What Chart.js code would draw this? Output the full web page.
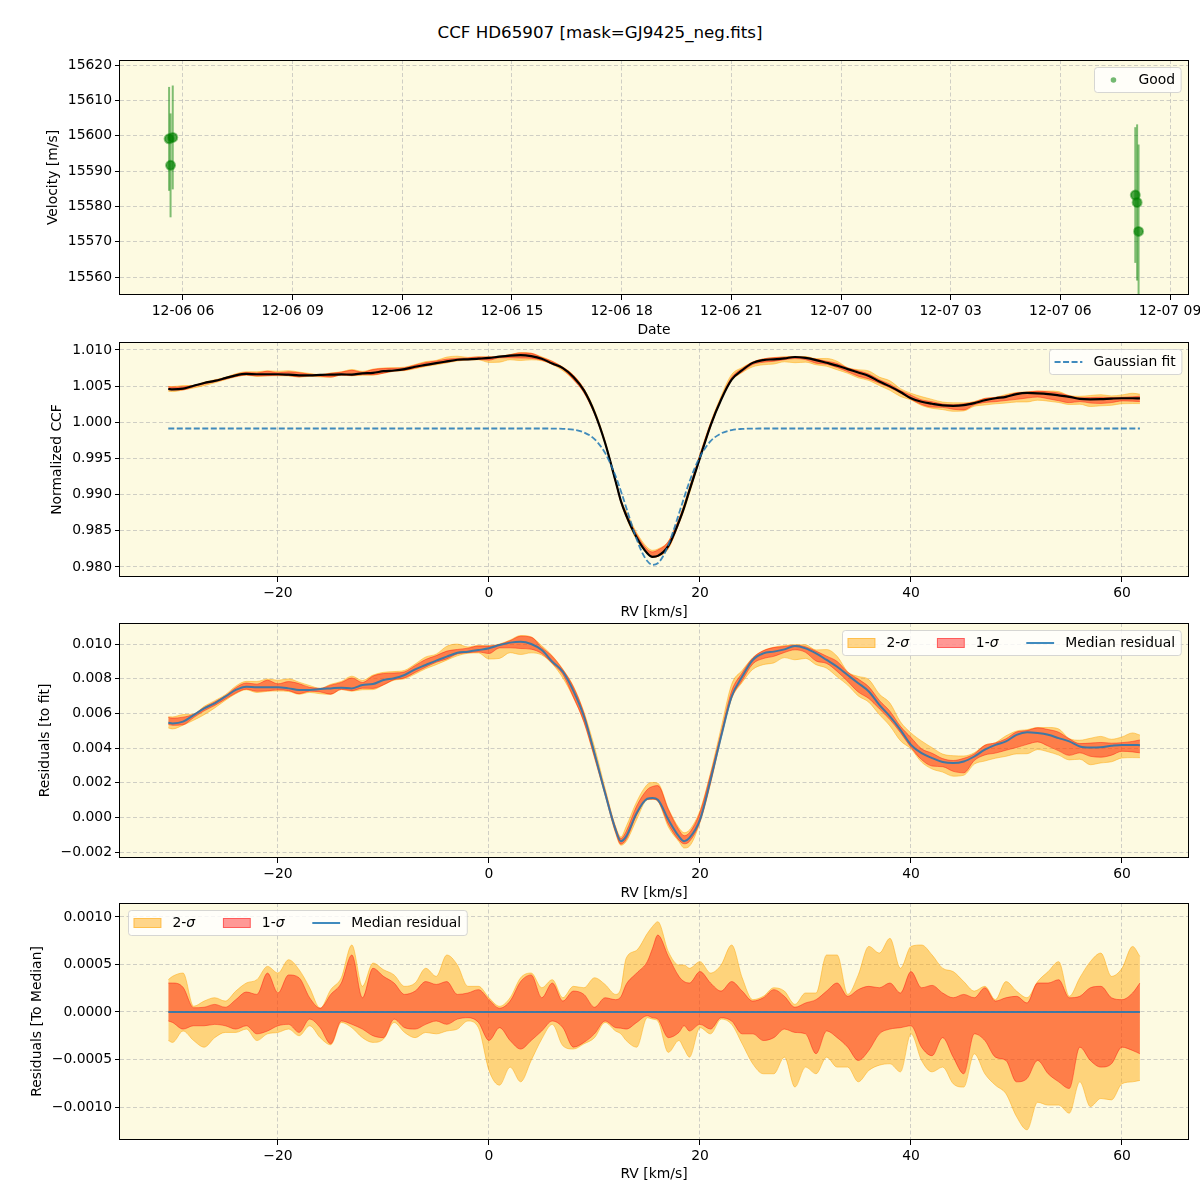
<!DOCTYPE html>
<html>
<head>
<meta charset="utf-8">
<title>CCF HD65907</title>
<script src="https://cdn.jsdelivr.net/npm/chart.js@4.4.0/dist/chart.umd.min.js"></script>
<style>
  html, body { margin: 0; padding: 0; background: #fff; }
  #page { position: relative; width: 1200px; height: 1200px; font-family: "DejaVu Sans", sans-serif; }
  #title { position: absolute; left: 0; top: 22px; width: 1200px; line-height: 20px;
           text-align: center; font-size: 16.7px; color: #000; }
  .panel { position: absolute; left: 0; width: 1200px; }
  .panel canvas { display: block; }
</style>
</head>
<body>
<div id="page">
  <div id="title">CCF HD65907 [mask=GJ9425_neg.fits]</div>
  <div class="panel" style="top:50px"><canvas id="c-rv" width="1200" height="290"></canvas></div>
  <div class="panel" style="top:332px"><canvas id="c-ccf" width="1200" height="290"></canvas></div>
  <div class="panel" style="top:613px"><canvas id="c-res" width="1200" height="290"></canvas></div>
  <div class="panel" style="top:893px"><canvas id="c-med" width="1200" height="292"></canvas></div>
</div>

<script>
// ── Data: RV time series (hours since 12-06 00:00) ────────────────────────────

const obsHours = [5.62, 5.66, 5.72, 32.05, 32.10, 32.14];
const obsVel   = [15599.1, 15591.6, 15599.5, 15583.2, 15581.1, 15572.9];
const obsErr   = [14.7, 14.7, 14.7, 19.2, 22.1, 24.6];

const dateTicks  = [6, 9, 12, 15, 18, 21, 24, 27, 30, 33];
const dateLabels = ["12-06 06", "12-06 09", "12-06 12", "12-06 15", "12-06 18",
                    "12-06 21", "12-07 00", "12-07 03", "12-07 06", "12-07 09"];
const velTicks   = [15560, 15570, 15580, 15590, 15600, 15610, 15620];

// ── Data: CCF profiles on a common RV grid (km/s) ─────────────────────────────

const rv = [
  -30.4, -30, -29, -28, -27, -26, -25, -24, -23, -22,
  -21, -20, -19, -18, -17, -16, -15, -14, -13, -12,
  -11, -10, -9, -8, -7, -6, -5, -4, -3, -2,
  -1, 0, 1, 2, 3, 4, 5, 6, 7, 8,
  9, 10, 11, 12, 12.5, 13, 14, 15, 15.5, 16,
  17, 18, 18.5, 19, 20, 21, 22, 23, 24, 25,
  26, 27, 28, 29, 30, 31, 32, 33, 34, 35,
  36, 37, 38, 39, 40, 41, 42, 43, 44, 45,
  46, 47, 48, 49, 50, 51, 52, 53, 54, 55,
  56, 57, 58, 59, 60, 61, 61.7];

// median normalized CCF
const ccfMedian = [
  1.00461, 1.00457, 1.00467, 1.00505, 1.00544, 1.00573, 1.00611, 1.00650, 1.00669, 1.00665,
  1.00665, 1.00665, 1.00659, 1.00650, 1.00650, 1.00655, 1.00659, 1.00663, 1.00659, 1.00678,
  1.00684, 1.00707, 1.00717, 1.00736, 1.00769, 1.00794, 1.00819, 1.00842, 1.00865, 1.00871,
  1.00880, 1.00890, 1.00909, 1.00923, 1.00928, 1.00915, 1.00880, 1.00812, 1.00750, 1.00628,
  1.00442, 1.00138, 0.99717, 0.99186, 0.98913, 0.98716, 0.98408, 0.98190, 0.98141, 0.98154,
  0.98293, 0.98624, 0.98825, 0.99059, 0.99511, 0.99956, 1.00313, 1.00590, 1.00721, 1.00822,
  1.00861, 1.00871, 1.00884, 1.00903, 1.00890, 1.00861, 1.00823, 1.00784, 1.00736, 1.00689,
  1.00641, 1.00564, 1.00497, 1.00420, 1.00333, 1.00285, 1.00257, 1.00234, 1.00228, 1.00237,
  1.00266, 1.00305, 1.00333, 1.00353, 1.00391, 1.00406, 1.00401, 1.00391, 1.00372, 1.00353,
  1.00324, 1.00318, 1.00320, 1.00328, 1.00333, 1.00333, 1.00331];

// median residual to the Gaussian fit, in units of 1e-3
const residFitMilli = [
  5.46, 5.42, 5.52, 5.90, 6.29, 6.58, 6.96, 7.35, 7.54, 7.50,
  7.50, 7.50, 7.44, 7.35, 7.35, 7.40, 7.44, 7.48, 7.44, 7.63,
  7.69, 7.92, 8.02, 8.21, 8.54, 8.79, 9.04, 9.27, 9.50, 9.56,
  9.65, 9.75, 9.94, 10.08, 10.13, 10.00, 9.65, 8.98, 8.40, 7.30,
  5.82, 3.70, 1.40, -0.71, -1.38, -1.10, 0.25, 1.07, 1.11, 1.02,
  -0.13, -1.10, -1.38, -1.19, -0.13, 2.17, 4.66, 6.97, 8.12, 9.08,
  9.46, 9.56, 9.69, 9.88, 9.75, 9.46, 9.08, 8.69, 8.21, 7.74,
  7.26, 6.49, 5.82, 5.05, 4.18, 3.70, 3.42, 3.19, 3.13, 3.22,
  3.51, 3.90, 4.18, 4.38, 4.76, 4.91, 4.86, 4.76, 4.57, 4.38,
  4.09, 4.03, 4.05, 4.13, 4.18, 4.18, 4.16];

// band edges relative to the median, in units of 1e-4
const hi2Off = [
  3.4, 3.75, 4.1, 0.6, 1.15, 1.5, 1.15, 2.2, 3.05, 3.4,
  4.8, 4.1, 5.5, 4.45, 2.55, 0.4, 2.35, 3.6, 7.05, 2.7,
  5.15, 4.45, 3.9, 2.7, 3.05, 4.6, 3.75, 6.0, 4.95, 2.7,
  2.7, 1.5, 0.6, 1.5, 3.6, 4.1, 2.55, 3.4, 1.5, 2.7,
  2.55, 3.6, 2.9, 1.85, 2.5, 5.65, 6.5, 8.25, 9.0, 9.5,
  6.35, 4.95, 4.95, 4.6, 5.3, 4.1, 4.95, 7.05, 3.6, 1.3,
  1.65, 2.55, 2.2, 0.8, 2.0, 2.0, 6.0, 6.0, 1.85, 3.9,
  6.9, 6.2, 7.75, 4.6, 6.9, 7.05, 6.0, 4.6, 4.25, 3.2,
  2.2, 2.7, 1.3, 3.2, 2.2, 1.5, 3.2, 4.25, 5.3, 1.65,
  3.6, 5.3, 6.2, 3.75, 4.6, 6.9, 5.85];
const hi1Off = [
  3.05, 3.05, 2.6, 0.45, 0.5, 0.8, 0.5, 1.3, 2.1, 1.85,
  4.1, 2.0, 3.9, 3.6, 1.5, 0.4, 1.85, 3.05, 6.0, 1.5,
  4.6, 3.75, 3.05, 1.85, 2.2, 3.2, 2.9, 3.2, 1.85, 2.0,
  2.35, 1.3, 0.4, 1.15, 3.2, 3.9, 1.5, 3.05, 1.15, 2.2,
  1.85, 0.5, 1.5, 1.3, 1.6, 2.9, 4.1, 5.3, 6.7, 8.1,
  5.85, 3.75, 3.2, 3.05, 4.25, 3.05, 2.2, 3.2, 2.2, 1.15,
  1.5, 2.35, 1.65, 0.5, 0.95, 1.3, 2.2, 3.05, 1.65, 2.35,
  2.7, 2.55, 3.05, 2.0, 4.25, 2.55, 2.8, 2.0, 1.5, 1.85,
  1.5, 2.55, 1.15, 1.5, 1.65, 0.95, 3.05, 3.05, 3.4, 1.5,
  1.65, 2.55, 2.7, 1.5, 1.3, 2.0, 3.05];
const lo1Off = [
  -0.94, -1.1, -1.8, -1.45, -1.45, -1.3, -1.45, -1.8, -1.45, -2.3,
  -2.0, -1.45, -1.3, -2.15, -0.75, -1.65, -3.35, -0.95, -1.3, -1.8,
  -2.5, -2.7, -0.75, -1.65, -1.8, -1.3, -0.95, -1.3, -0.75, -0.6,
  -1.1, -3.0, -1.65, -3.0, -3.9, -3.0, -2.0, -0.95, -1.65, -3.7,
  -3.2, -2.3, -0.95, -1.65, -1.7, -1.8, -1.1, -0.4, -0.6, -0.75,
  -2.7, -2.15, -1.45, -2.0, -1.3, -1.8, -0.6, -0.95, -2.3, -2.3,
  -3.0, -2.7, -1.8, -2.15, -2.3, -4.4, -2.0, -2.7, -3.7, -5.1,
  -4.05, -2.3, -1.8, -1.65, -1.45, -3.7, -4.6, -2.7, -4.75, -6.5,
  -2.3, -3.0, -4.75, -5.1, -7.35, -7.0, -5.1, -6.5, -7.35, -8.05,
  -3.7, -5.1, -5.8, -5.45, -3.7, -4.05, -4.4];
const lo2Off = [
  -3.0, -3.2, -2.0, -3.0, -3.7, -2.7, -2.15, -2.15, -1.8, -3.0,
  -2.3, -2.15, -1.8, -2.5, -1.45, -2.7, -3.45, -1.1, -1.65, -2.7,
  -3.2, -2.85, -1.1, -2.15, -2.7, -2.15, -2.3, -2.0, -1.8, -0.95,
  -1.65, -6.15, -7.7, -5.8, -7.35, -5.1, -2.85, -1.3, -3.55, -3.9,
  -3.35, -2.7, -1.1, -2.0, -2.3, -3.0, -3.7, -0.6, -0.75, -0.95,
  -4.25, -3.0, -3.9, -4.75, -1.65, -2.3, -0.75, -1.3, -3.35, -5.45,
  -6.5, -6.5, -4.75, -7.9, -5.8, -6.5, -4.75, -5.8, -5.8, -7.35,
  -6.15, -5.6, -5.45, -6.3, -2.3, -5.1, -6.3, -5.8, -7.55, -7.9,
  -4.4, -6.5, -7.7, -8.6, -11.0, -12.4, -9.5, -9.8, -9.8, -10.65,
  -7.35, -9.95, -9.1, -9.25, -7.55, -7.35, -7.2];

// Gaussian fit, sampled on its own grid
const fitRv  = [-30.4, 4, 6, 7, 8, 9, 10, 11, 12, 12.5, 13, 13.5, 14, 14.5, 15, 15.5,
                16, 16.5, 17, 17.5, 18, 18.5, 19, 19.5, 20, 21, 22, 23, 24, 25, 27, 61.7];
const fitCcf = [0.99915, 0.99915, 0.99914, 0.99910, 0.99898, 0.99860, 0.99768, 0.99577,
                0.99257, 0.99051, 0.98826, 0.98597, 0.98383, 0.98205, 0.98083, 0.98030,
                0.98052, 0.98148, 0.98306, 0.98508, 0.98734, 0.98963, 0.99178, 0.99367,
                0.99524, 0.99739, 0.99847, 0.99893, 0.99909, 0.99914, 0.99915, 0.99915];

const rvTicks   = [-20, 0, 20, 40, 60];
const ccfTicks  = [0.980, 0.985, 0.990, 0.995, 1.000, 1.005, 1.010];
const resTicks  = [-0.002, 0.000, 0.002, 0.004, 0.006, 0.008, 0.010];
const medTicks  = [-0.0010, -0.0005, 0.0000, 0.0005, 0.0010];

const MILLI = 1e-3;
const OFF_UNIT = 1e-4;

// ── Style ──────────────────────────────────────────────────────────────────────

const FONT = 13.9;
const PLOT_BG = "#fdfae1";
const GRID = "rgba(176,176,176,0.6)";
const SIG2 = "rgba(255,165,0,0.45)";
const SIG1 = "rgba(255,0,0,0.4)";
const BLUE = "rgba(31,119,180,0.85)";
const GREEN_BAR = "rgba(0,128,0,0.5)";

Chart.defaults.font.family = "'DejaVu Sans', sans-serif";
Chart.defaults.font.size = FONT;
Chart.defaults.color = "#000";

const fmt = (v, d) => v.toFixed(d).replace("-", "\u2212");

// ── Plugins ────────────────────────────────────────────────────────────────────

const frame = {
  id: "frame",
  beforeDraw(chart) {
    const { ctx, chartArea: a } = chart;
    ctx.save();
    ctx.fillStyle = PLOT_BG;
    ctx.fillRect(a.left, a.top, a.right - a.left, a.bottom - a.top);
    ctx.restore();
  },
  afterDraw(chart) {
    const { ctx, chartArea: a } = chart;
    ctx.save();
    ctx.strokeStyle = "#000";
    ctx.lineWidth = 1;
    ctx.strokeRect(Math.round(a.left) - 0.5, Math.round(a.top) + 0.5,
                   Math.round(a.right - a.left) + 1, Math.round(a.bottom - a.top) - 1);
    ctx.restore();
  },
};

const errorBars = {
  id: "errorBars",
  beforeDatasetsDraw(chart) {
    const { ctx, chartArea: a, scales: { x, y } } = chart;
    ctx.save();
    ctx.beginPath();
    ctx.rect(a.left, a.top, a.right - a.left, a.bottom - a.top);
    ctx.clip();
    ctx.strokeStyle = GREEN_BAR;
    ctx.lineWidth = 2;
    obsHours.forEach((h, i) => {
      const px = x.getPixelForValue(h);
      ctx.beginPath();
      ctx.moveTo(px, y.getPixelForValue(obsVel[i] - obsErr[i]));
      ctx.lineTo(px, y.getPixelForValue(obsVel[i] + obsErr[i]));
      ctx.stroke();
    });
    ctx.restore();
  },
};

// legend text may contain an italic sigma
function runs(label) {
  return label.split(/(σ)/).filter(s => s).map(s => ({ t: s, it: s === "σ" }));
}
function setFont(ctx, italic) {
  ctx.font = (italic ? "italic " : "") + FONT + 'px "DejaVu Sans"';
}
function textWidth(ctx, label) {
  return runs(label).reduce((w, r) => { setFont(ctx, r.it); return w + ctx.measureText(r.t).width; }, 0);
}
function drawText(ctx, label, x, cy) {
  ctx.fillStyle = "#000";
  ctx.textBaseline = "middle";
  ctx.textAlign = "left";
  runs(label).forEach(r => {
    setFont(ctx, r.it);
    ctx.fillText(r.t, x, cy);
    x += ctx.measureText(r.t).width;
  });
}
function drawHandle(ctx, it, x, cy, hl) {
  if (it.type === "dot") {
    ctx.beginPath();
    ctx.arc(x + hl / 2, cy, 2.8, 0, 2 * Math.PI);
    ctx.fillStyle = it.color;
    ctx.fill();
  } else if (it.type === "patch") {
    ctx.fillStyle = it.color;
    ctx.fillRect(x, cy - 5, hl, 10);
    ctx.strokeStyle = it.color;
    ctx.lineWidth = 1;
    ctx.strokeRect(x + 0.5, cy - 4.5, hl - 1, 9);
  } else {
    ctx.beginPath();
    ctx.setLineDash(it.dash || []);
    ctx.moveTo(x, cy);
    ctx.lineTo(x + hl, cy);
    ctx.strokeStyle = it.color;
    ctx.lineWidth = it.width || 2;
    ctx.stroke();
    ctx.setLineDash([]);
  }
}

function makeLegend(corner, items) {
  return {
    id: "boxLegend",
    afterDraw(chart) {
      const { ctx, chartArea: a } = chart;
      const pad = 0.4 * FONT, hl = 2 * FONT, htp = 0.8 * FONT, colSp = 2 * FONT, h = 25;
      ctx.save();
      const widths = items.map(it => textWidth(ctx, it.label));
      let w = 2 * pad + colSp * (items.length - 1);
      widths.forEach(tw => { w += hl + htp + tw; });
      const left = Math.round(corner === "tr" ? a.right - 7 - w : a.left + 8);
      const top = Math.round(a.top + 7);

      ctx.beginPath();
      if (ctx.roundRect) ctx.roundRect(left + 0.5, top + 0.5, w, h, 3);
      else ctx.rect(left + 0.5, top + 0.5, w, h);
      ctx.fillStyle = "rgba(255,255,255,0.8)";
      ctx.fill();
      ctx.strokeStyle = "rgba(204,204,204,0.8)";
      ctx.lineWidth = 1;
      ctx.stroke();

      let x = left + pad;
      const cy = top + h / 2 + 0.5;
      items.forEach((it, i) => {
        drawHandle(ctx, it, x, cy, hl);
        drawText(ctx, it.label, x + hl + htp, cy);
        x += hl + htp + widths[i] + colSp;
      });
      ctx.restore();
    },
  };
}

// ── Axes ───────────────────────────────────────────────────────────────────────

function xAxis(min, max, ticks, label, callback, titleBottom) {
  return {
    type: "linear",
    min, max,
    afterBuildTicks: s => { s.ticks = ticks.map(v => ({ value: v })); },
    afterFit: s => { s.height = 45; s.paddingLeft = 0; s.paddingRight = 0; },
    grid: { color: GRID, tickColor: "#000", tickLength: 5, tickWidth: 1 },
    border: { display: false, dash: [4, 2.5] },
    ticks: { padding: 3, maxRotation: 0, autoSkip: false, callback },
    title: { display: true, text: label, padding: { top: 0, bottom: titleBottom } },
  };
}

function yAxis(min, max, ticks, label, decimals, titleTop) {
  return {
    type: "linear",
    min, max,
    afterBuildTicks: s => { s.ticks = ticks.map(v => ({ value: v })); },
    afterFit: s => { s.width = 120; s.paddingTop = 0; s.paddingBottom = 0; },
    grid: { color: GRID, tickColor: "#000", tickLength: 5, tickWidth: 1 },
    border: { display: false, dash: [4, 2.5] },
    ticks: { padding: 3, autoSkip: false, callback: v => fmt(v, decimals) },
    title: { display: true, text: label, padding: { top: titleTop, bottom: 0 } },
  };
}

const rvTickLabel = v => fmt(v, 0);
const baseOptions = {
  responsive: false,
  animation: false,
  devicePixelRatio: 1,
  events: [],
  layout: { padding: { top: 10, right: 12, left: 0, bottom: 0 } },
  plugins: { legend: { display: false }, tooltip: { enabled: false } },
};

// ── Helpers for band datasets ─────────────────────────────────────────────────

const pts = ys => rv.map((x, i) => ({ x, y: ys[i] }));

function bandDatasets(base) {
  const edge = (offs) => base.map((b, i) => b + offs[i] * OFF_UNIT);
  const common = {
    pointRadius: 0,
    borderWidth: 1,
    cubicInterpolationMode: "monotone",
  };
  return [
    { ...common, data: pts(edge(lo2Off)), borderColor: SIG2, fill: false, order: 3 },
    { ...common, data: pts(edge(hi2Off)), borderColor: SIG2, backgroundColor: SIG2, fill: "-1", order: 3 },
    { ...common, data: pts(edge(lo1Off)), borderColor: SIG1, fill: false, order: 2 },
    { ...common, data: pts(edge(hi1Off)), borderColor: SIG1, backgroundColor: SIG1, fill: "-1", order: 2 },
  ];
}

const sigmaLegend = [
  { type: "patch", label: "2-σ", color: SIG2 },
  { type: "patch", label: "1-σ", color: SIG1 },
  { type: "line", label: "Median residual", color: BLUE, width: 2 },
];

// ── Panel 1: RV vs date ───────────────────────────────────────────────────────

new Chart(document.getElementById("c-rv"), {
  type: "scatter",
  data: {
    datasets: [{
      label: "Good",
      data: obsHours.map((h, i) => ({ x: h, y: obsVel[i] })),
      pointRadius: 4.5,
      backgroundColor: "rgba(0,128,0,0.7)",
      borderColor: "rgba(0,128,0,0.45)",
      borderWidth: 2,
    }],
  },
  options: {
    ...baseOptions,
    scales: {
      x: xAxis(4.277, 33.492, dateTicks, "Date", v => dateLabels[dateTicks.indexOf(v)], 1.7),
      y: yAxis(15554.91, 15621.42, velTicks, "Velocity [m/s]", 0, 44.7),
    },
  },
  plugins: [frame, errorBars, makeLegend("tr", [{ type: "dot", label: "Good", color: "rgba(0,128,0,0.55)" }])],
});

// ── Panel 2: normalized CCF ───────────────────────────────────────────────────

new Chart(document.getElementById("c-ccf"), {
  type: "line",
  data: {
    datasets: [
      ...bandDatasets(ccfMedian),
      { data: pts(ccfMedian), borderColor: "#000", borderWidth: 2.2, pointRadius: 0,
        cubicInterpolationMode: "monotone", fill: false, order: 1 },
      { data: fitRv.map((x, i) => ({ x, y: fitCcf[i] })), borderColor: BLUE, borderWidth: 1.8,
        borderDash: [6, 2.5], pointRadius: 0, cubicInterpolationMode: "monotone", fill: false, order: 0 },
    ],
  },
  options: {
    ...baseOptions,
    scales: {
      x: xAxis(-34.976, 66.256, rvTicks, "RV [km/s]", rvTickLabel, 1.7),
      y: yAxis(0.978617, 1.011106, ccfTicks, "Normalized CCF", 3, 48.7),
    },
  },
  plugins: [frame, makeLegend("tr", [{ type: "line", label: "Gaussian fit", color: BLUE, width: 1.8, dash: [6, 2.5] }])],
});

// ── Panel 3: residuals to fit ─────────────────────────────────────────────────

const residFit = residFitMilli.map(v => v * MILLI);
new Chart(document.getElementById("c-res"), {
  type: "line",
  data: {
    datasets: [
      ...bandDatasets(residFit),
      { data: pts(residFit), borderColor: BLUE, borderWidth: 2, pointRadius: 0,
        cubicInterpolationMode: "monotone", fill: false, order: 1 },
    ],
  },
  options: {
    ...baseOptions,
    scales: {
      x: xAxis(-34.976, 66.256, rvTicks, "RV [km/s]", rvTickLabel, 1.7),
      y: yAxis(-0.002346, 0.011212, resTicks, "Residuals [to fit]", 3, 36.7),
    },
  },
  plugins: [frame, makeLegend("tr", sigmaLegend)],
});

// ── Panel 4: residuals to median ──────────────────────────────────────────────

const zeroBase = rv.map(() => 0);
new Chart(document.getElementById("c-med"), {
  type: "line",
  data: {
    datasets: [
      ...bandDatasets(zeroBase),
      { data: [{ x: rv[0], y: 0 }, { x: rv[rv.length - 1], y: 0 }], borderColor: BLUE,
        borderWidth: 2, pointRadius: 0, fill: false, order: 1 },
    ],
  },
  options: {
    ...baseOptions,
    scales: {
      x: xAxis(-34.976, 66.256, rvTicks, "RV [km/s]", rvTickLabel, 2.7),
      y: yAxis(-0.001347, 0.001147, medTicks, "Residuals [To Median]", 4, 28.7),
    },
  },
  plugins: [frame, makeLegend("tl", sigmaLegend)],
});
</script>
</body>
</html>
